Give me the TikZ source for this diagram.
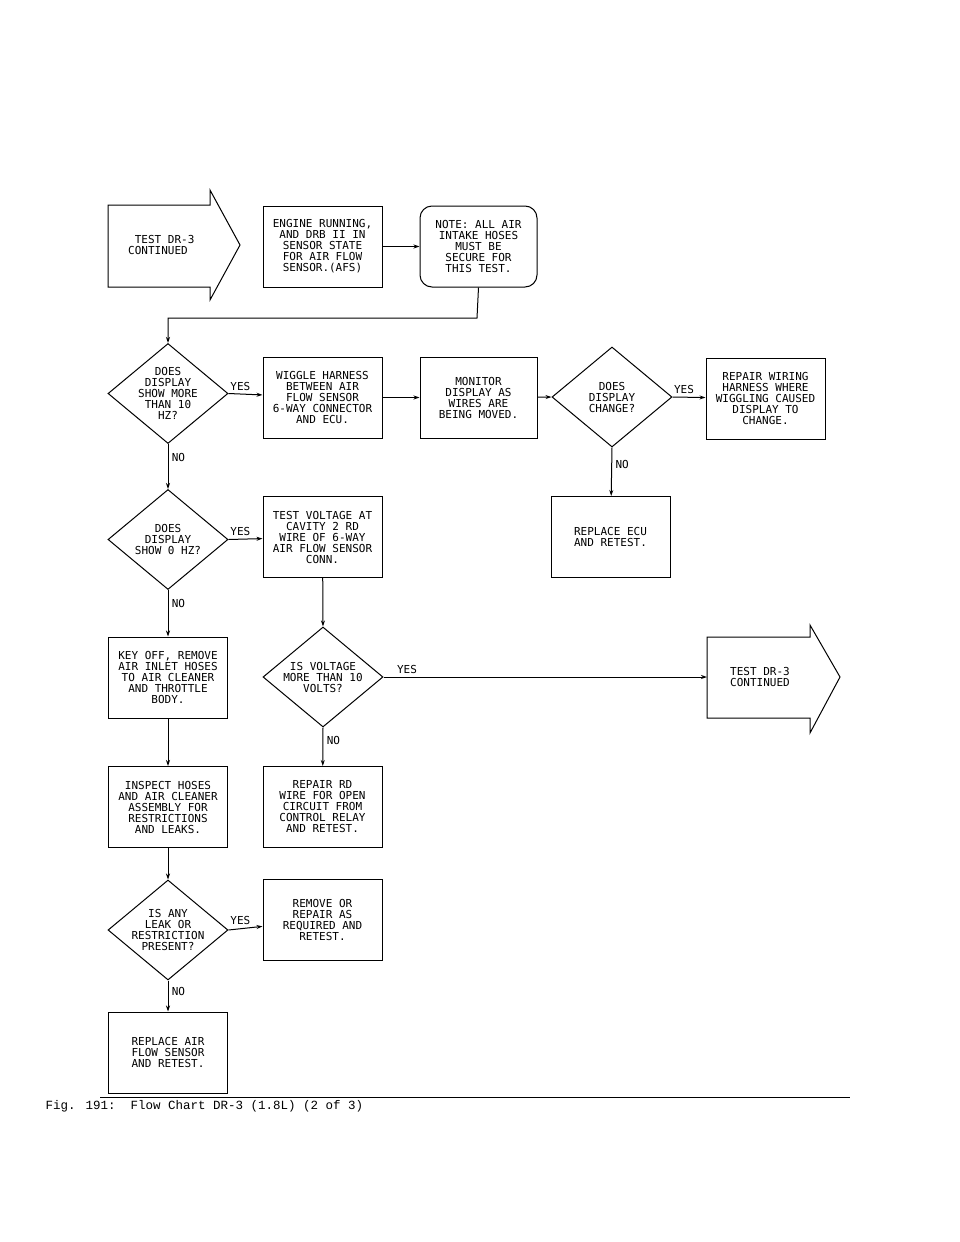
\documentclass[tikz,border=0pt]{standalone}
\usepackage{fontspec}
\setmonofont{DejaVu Sans Mono}
\newfontfamily\capfont{Liberation Mono}
\usetikzlibrary{shapes.geometric,arrows.meta}
\tikzset{
  box/.style={draw, line width=1pt, minimum width=119pt, minimum height=81pt,
    align=center, font=\ttfamily\fontsize{11}{11}\selectfont, inner sep=1pt},
  dia/.style={draw, line width=1pt, diamond, minimum width=120pt, minimum height=100pt, inner sep=0pt},
  diatext/.style={align=center, font=\ttfamily\fontsize{11}{11}\selectfont},
  flow/.style={line width=1pt, -{Stealth[length=6pt,width=4pt]}},
  lbl/.style={font=\ttfamily\fontsize{11}{11}\selectfont}
}
\begin{document}
\begin{tikzpicture}[x=1pt,y=-1pt]
\useasboundingbox (0,0) rectangle (960,1242);
% first row
\draw[line width=1pt] (108,205) -- (210,205) -- (210,190) -- (240,245) -- (210,300) -- (210,287) -- (108,287) -- cycle;
\node[diatext, anchor=west] (start) at (118,245) {\ \ TEST DR-3\\CONTINUED};
\coordinate (starttip) at (240,245);
\node[box] (engine) at (322.5,246.5) {ENGINE RUNNING,\\AND DRB II IN\\SENSOR STATE\\FOR AIR FLOW\\SENSOR.(AFS)};
\node[box, rounded corners=12pt, minimum width=117pt] (note) at (478.5,246.5) {NOTE: ALL AIR\\INTAKE HOSES\\MUST BE\\SECURE FOR\\THIS TEST.};
\draw[flow] (engine) -- (note);
\coordinate (bend1) at (477,318);
\coordinate (bend2) at (168,318);
% second row
\node[dia] (d1) at (168,393.5) {};
\node[diatext] at (d1) {DOES\\DISPLAY\\SHOW MORE\\THAN 10\\HZ?};
\draw[flow] (note.south) -- (bend1) -- (bend2) -- (d1.north);
\node[box] (wiggle) at (322.5,397.5) {WIGGLE HARNESS\\BETWEEN AIR\\FLOW SENSOR\\6-WAY CONNECTOR\\AND ECU.};
\node[box, minimum width=117pt] (monitor) at (478.5,397.5) {MONITOR\\DISPLAY AS\\WIRES ARE\\BEING MOVED.};
\node[dia] (d2) at (612,397) {};
\node[diatext] at (d2) {DOES\\DISPLAY\\CHANGE?};
\node[box] (repwire) at (765.5,398.5) {REPAIR WIRING\\HARNESS WHERE\\WIGGLING CAUSED\\DISPLAY TO\\CHANGE.};
\draw[flow] (d1.east) -- node[lbl, above, pos=0.35] {YES} (wiggle);
\draw[flow] (wiggle) -- (monitor);
\draw[flow] (monitor) -- (d2.west);
\draw[flow] (d2.east) -- node[lbl, above, pos=0.35] {YES} (repwire);
\node[box] (ecu) at (610.5,537) {REPLACE ECU\\AND RETEST.};
\draw[flow] (d2.south) -- node[lbl, right, pos=0.35] {NO} (ecu);
% third row
\node[dia] (d3) at (168,539.5) {};
\node[diatext] at (d3) {DOES\\DISPLAY\\SHOW 0 HZ?};
\draw[flow] (d1.south) -- node[lbl, right, pos=0.3] {NO} (d3.north);
\node[box] (volt) at (322.5,537) {TEST VOLTAGE AT\\CAVITY 2 RD\\WIRE OF 6-WAY\\AIR FLOW SENSOR\\CONN.};
\draw[flow] (d3.east) -- node[lbl, above, pos=0.35] {YES} (volt);
\node[box] (keyoff) at (168,677.5) {KEY OFF, REMOVE\\AIR INLET HOSES\\TO AIR CLEANER\\AND THROTTLE\\BODY.};
\draw[flow] (d3.south) -- node[lbl, right, pos=0.3] {NO} (keyoff);
\node[dia] (d4) at (323,677) {};
\node[diatext] at (d4) {IS VOLTAGE\\MORE THAN 10\\VOLTS?};
\draw[flow] (volt) -- (d4.north);
\draw[line width=1pt] (707,637) -- (810,637) -- (810,625) -- (840,677) -- (810,733) -- (810,718) -- (707,718) -- cycle;
\node[diatext] (cont) at (760,677) {TEST DR-3\\CONTINUED};
\coordinate (endtail) at (707,677);
\draw[flow] (d4.east) -- node[lbl, above, pos=0.03, anchor=south west] {YES} (endtail);
% fourth row
\node[box] (inspect) at (168,807) {INSPECT HOSES\\AND AIR CLEANER\\ASSEMBLY FOR\\RESTRICTIONS\\AND LEAKS.};
\draw[flow] (keyoff) -- (inspect);
\node[box] (reprd) at (322.5,807) {REPAIR RD\\WIRE FOR OPEN\\CIRCUIT FROM\\CONTROL RELAY\\AND RETEST.};
\draw[flow] (d4.south) -- node[lbl, right, pos=0.35] {NO} (reprd);
\node[dia] (d5) at (168,930) {};
\node[diatext] at (d5) {IS ANY\\LEAK OR\\RESTRICTION\\PRESENT?};
\draw[flow] (inspect) -- (d5.north);
\node[box] (remove) at (322.5,920) {REMOVE OR\\REPAIR AS\\REQUIRED AND\\RETEST.};
\draw[flow] (d5.east) -- node[lbl, above, pos=0.35] {YES} (remove);
\node[box] (afs) at (168,1052.5) {REPLACE AIR\\FLOW SENSOR\\AND RETEST.};
\draw[flow] (d5.south) -- node[lbl, right, pos=0.35] {NO} (afs);
% caption
\draw[line width=0.6pt] (100,1097) -- (850,1097);
\node[anchor=west, font=\capfont\fontsize{12.5}{12.5}\selectfont] (cap) at (42,1106) {Fig. 191:\ \ Flow Chart DR-3 (1.8L) (2 of 3)};
\end{tikzpicture}
\end{document}
